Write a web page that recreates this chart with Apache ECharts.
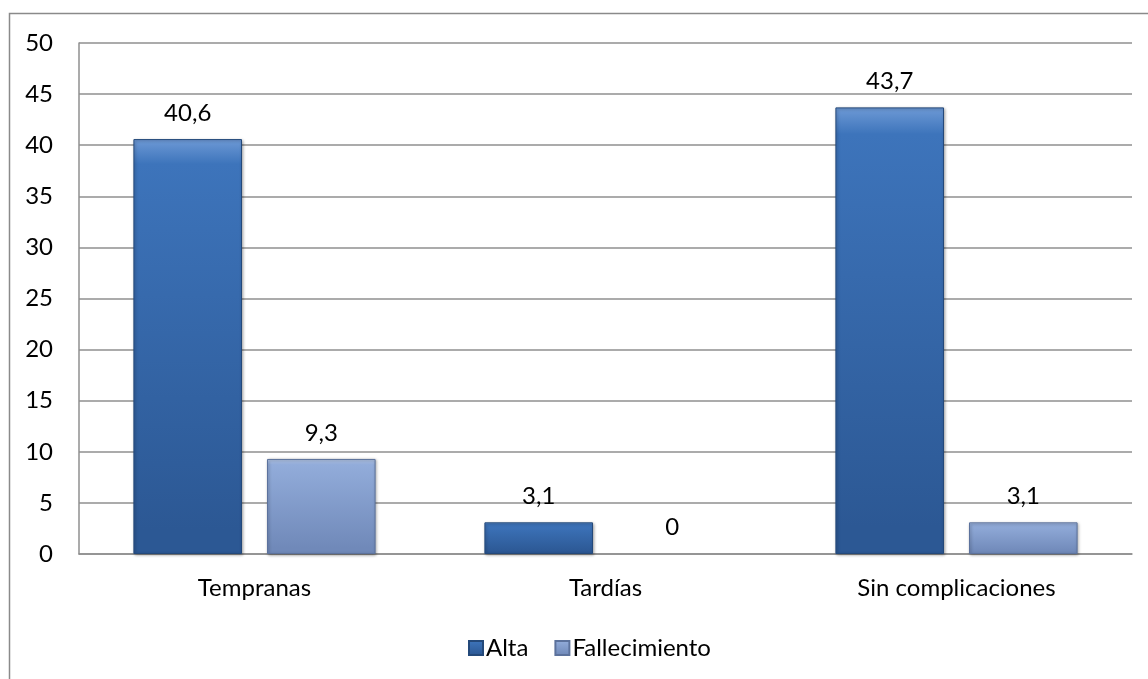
<!DOCTYPE html>
<html>
<head>
<meta charset="utf-8">
<script src="https://cdn.jsdelivr.net/npm/echarts@6/dist/echarts.min.js"></script>
<style>
  html, body { margin: 0; padding: 0; background: #fff; }
  #chart { width: 1148px; height: 679px; }
</style>
</head>
<body>
<div id="chart"></div>
<script>
// Outcome by type of complication (%)
const categories = ['Tempranas', 'Tardías', 'Sin complicaciones'];
const seriesNames = ['Alta', 'Fallecimiento'];
const altaValues = [40.6, 3.1, 43.7];
const fallecimientoValues = [9.3, 0, 3.1];
const yTicks = { min: 0, max: 50, interval: 5 };

const FONT = 'Lato, "Open Sans", sans-serif';
const FS = 24;
const fmt = v => String(v).replace('.', ',');

function bevel(top, mid, bottom) {
  return new echarts.graphic.LinearGradient(0, 0, 0, 1, [
    { offset: 0, color: top },
    { offset: 0.06, color: mid },
    { offset: 0.94, color: bottom },
    { offset: 1, color: bottom }
  ]);
}

const altaFill = bevel('#6e9ad6', '#3d74bb', '#2c5894');
const fallFill = bevel('#b6c9ea', '#92acda', '#7089b9');

function barSeries(name, values, fill, edge) {
  // a zero-height bar shows only its value label
  const data = values.map(v => v === 0
    ? { value: v, itemStyle: { borderColor: 'transparent', shadowColor: 'transparent', color: 'transparent' } }
    : v);
  return {
    name: name,
    type: 'bar',
    data: data,
    barGap: '23%',
    barCategoryGap: '31%',
    itemStyle: {
      color: fill,
      borderColor: edge,
      borderWidth: 1,
      shadowColor: 'rgba(0,0,0,0.35)',
      shadowBlur: 3,
      shadowOffsetX: 1,
      shadowOffsetY: 1
    },
    label: {
      show: true,
      position: 'top',
      distance: 14,
      fontFamily: FONT,
      fontSize: FS,
      color: '#000',
      formatter: p => fmt(p.value)
    }
  };
}

const chart = echarts.init(document.getElementById('chart'), null, { renderer: 'canvas' });
chart.setOption({
  animation: false,
  backgroundColor: '#fff',
  textStyle: { fontFamily: FONT },
  graphic: [{
    type: 'rect',
    shape: { x: 9.5, y: 13.5, width: 1160, height: 700 },
    style: { fill: 'none', stroke: '#8a8a8a', lineWidth: 1.5 },
    silent: true,
    z: -1
  }],
  grid: { left: 79, right: 16, top: 43, bottom: 125, containLabel: false },
  legend: {
    data: seriesNames.map(n => ({ name: n, itemStyle: { color: n === 'Alta' ? altaFill : fallFill } })),
    left: 463,
    top: 631,
    itemWidth: 14,
    itemHeight: 14,
    itemGap: 26,
    textStyle: { fontFamily: FONT, fontSize: FS, color: '#000', padding: [0, 0, 0, -2] },
    icon: 'rect'
  },
  xAxis: {
    type: 'category',
    data: categories,
    axisLine: { show: true, lineStyle: { color: '#8f8f8f', width: 1.5 } },
    axisTick: { show: false },
    axisLabel: { margin: 22, fontFamily: FONT, fontSize: FS, color: '#000' }
  },
  yAxis: {
    type: 'value',
    min: yTicks.min,
    max: yTicks.max,
    interval: yTicks.interval,
    axisLine: { show: true, lineStyle: { color: '#8f8f8f', width: 1.5 } },
    axisTick: { show: false },
    splitLine: { show: true, lineStyle: { color: '#8f8f8f', width: 1.5 } },
    axisLabel: { margin: 26, fontFamily: FONT, fontSize: FS, color: '#000' }
  },
  series: [
    barSeries(seriesNames[0], altaValues, altaFill, '#24497a'),
    barSeries(seriesNames[1], fallecimientoValues, fallFill, '#5c729c')
  ]
});
</script>
</body>
</html>
